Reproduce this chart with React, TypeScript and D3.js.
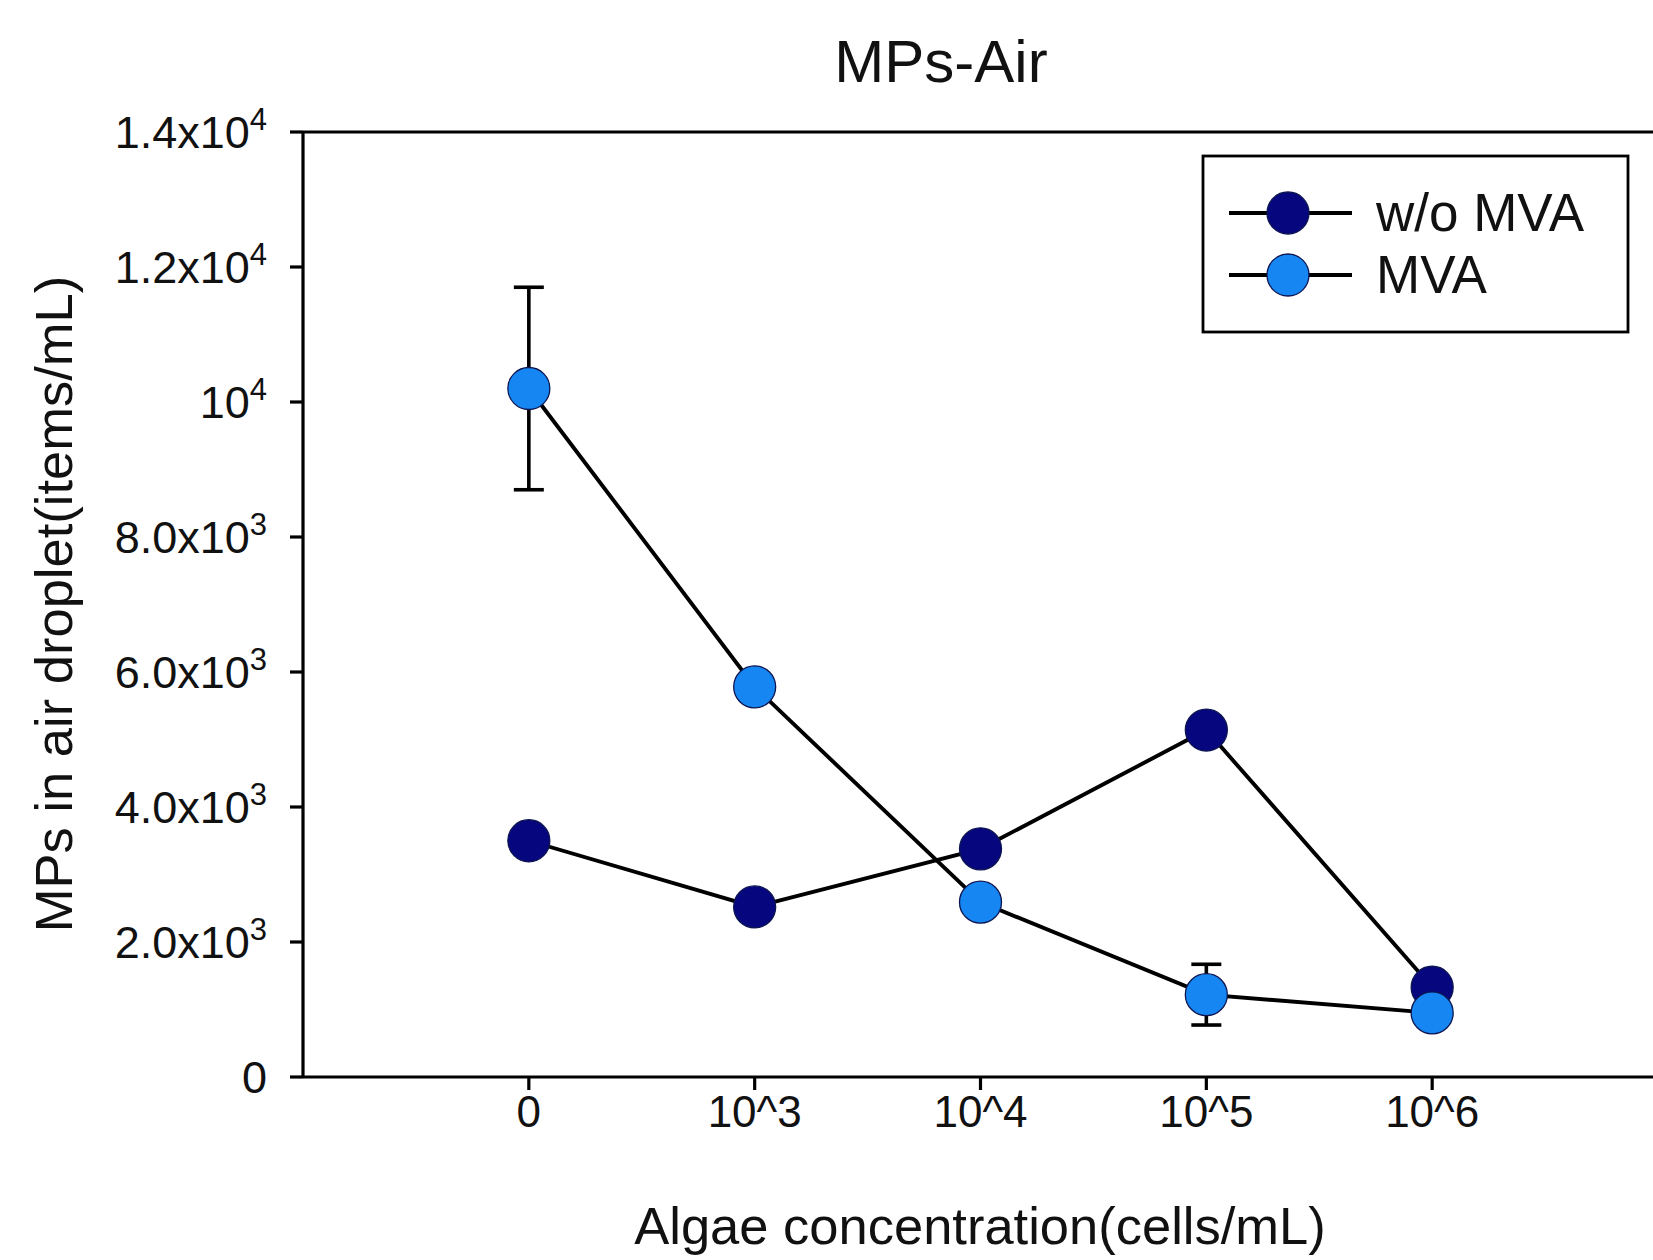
import React from 'react';
import * as d3 from 'd3';

// MPs-Air: MP count in air droplets vs algae concentration, with and without MVA.
const categories = ['0', '10^3', '10^4', '10^5', '10^6'];
const withoutMva = [3500, 2520, 3380, 5140, 1330];
const withoutMvaErr = [0, 0, 0, 0, 0];
const mva = [10200, 5780, 2590, 1220, 950];
const mvaErr = [1500, 0, 0, 450, 0];

const yTicks = [0, 2000, 4000, 6000, 8000, 10000, 12000, 14000];
// [mantissa text, exponent] — exponent rendered as superscript
const yTickLabels: [string, string][] = [
  ['0', ''],
  ['2.0x10', '3'],
  ['4.0x10', '3'],
  ['6.0x10', '3'],
  ['8.0x10', '3'],
  ['10', '4'],
  ['1.2x10', '4'],
  ['1.4x10', '4'],
];

const seriesNames = ['w/o MVA', 'MVA'];
const seriesColors = ['#06067E', '#1686F2'];

const W = 1653;
const H = 1260;
const FONT = '"Liberation Sans", Arial, sans-serif';

export default function App() {
  const x = d3
    .scalePoint<string>()
    .domain(categories)
    .range([303, 1658])
    .padding(1);
  const y = d3.scaleLinear().domain([0, 14000]).range([1077, 132]);

  const line = d3
    .line<number>()
    .x((_, i) => x(categories[i]) ?? 0)
    .y((v) => y(v));

  const series = [
    { name: seriesNames[0], values: withoutMva, err: withoutMvaErr, color: seriesColors[0] },
    { name: seriesNames[1], values: mva, err: mvaErr, color: seriesColors[1] },
  ];

  const [x0] = x.range();
  const y0 = y(0);
  const yTop = y(14000);
  const tick = 13;
  const r = 21;

  return (
    <svg
      width={W}
      height={H}
      style={{ position: 'absolute', left: 0, top: 0, background: '#fff' }}
      fontFamily={FONT}
    >
      <rect width={W} height={H} fill="#fff" />

      <text x={941} y={82} fontSize={60} textAnchor="middle" fill="#111">
        MPs-Air
      </text>

      {/* frame: left axis, bottom axis, top border */}
      <line x1={x0} x2={x0} y1={yTop} y2={y0} stroke="#000" strokeWidth={3.2} />
      <line x1={x0} x2={W} y1={y0} y2={y0} stroke="#000" strokeWidth={3.2} />
      <line x1={x0} x2={W} y1={yTop} y2={yTop} stroke="#000" strokeWidth={3.2} />

      {yTicks.map((t, i) => (
        <g key={t}>
          <line x1={x0 - tick} x2={x0} y1={y(t)} y2={y(t)} stroke="#000" strokeWidth={3.2} />
          <text x={267} y={y(t) + 16} fontSize={45} textAnchor="end" fill="#111">
            {yTickLabels[i][0]}
            {yTickLabels[i][1] ? (
              <tspan fontSize={31} dy={-18}>
                {yTickLabels[i][1]}
              </tspan>
            ) : null}
          </text>
        </g>
      ))}

      {categories.map((c) => (
        <g key={c}>
          <line
            x1={x(c)}
            x2={x(c)}
            y1={y0}
            y2={y0 + tick}
            stroke="#000"
            strokeWidth={3.2}
          />
          <text x={x(c)} y={1127} fontSize={44} textAnchor="middle" fill="#111">
            {c}
          </text>
        </g>
      ))}

      <text x={980} y={1244} fontSize={52.5} textAnchor="middle" fill="#111">
        Algae concentration(cells/mL)
      </text>
      <text
        transform={`translate(72, 604) rotate(-90)`}
        fontSize={52.5}
        textAnchor="middle"
        fill="#111"
      >
        MPs in air droplet(items/mL)
      </text>

      {series.map((s) => (
        <g key={s.name}>
          {s.values.map((v, i) =>
            s.err[i] > 0 ? (
              <g key={i} stroke="#000" strokeWidth={3.6}>
                <line
                  x1={x(categories[i])}
                  x2={x(categories[i])}
                  y1={y(v - s.err[i])}
                  y2={y(v + s.err[i])}
                />
                <line
                  x1={(x(categories[i]) ?? 0) - 15}
                  x2={(x(categories[i]) ?? 0) + 15}
                  y1={y(v + s.err[i])}
                  y2={y(v + s.err[i])}
                />
                <line
                  x1={(x(categories[i]) ?? 0) - 15}
                  x2={(x(categories[i]) ?? 0) + 15}
                  y1={y(v - s.err[i])}
                  y2={y(v - s.err[i])}
                />
              </g>
            ) : null,
          )}
          <path d={line(s.values) ?? ''} fill="none" stroke="#000" strokeWidth={3.9} />
          {s.values.map((v, i) => (
            <circle
              key={i}
              cx={x(categories[i])}
              cy={y(v)}
              r={r}
              fill={s.color}
              stroke="#0c1550"
              strokeWidth={1.3}
            />
          ))}
        </g>
      ))}

      {/* legend */}
      <rect x={1203} y={156} width={425} height={176} fill="#fff" stroke="#000" strokeWidth={2.8} />
      {series.map((s, i) => {
        const ly = 213 + i * 62;
        return (
          <g key={s.name}>
            <line x1={1229} x2={1352} y1={ly} y2={ly} stroke="#000" strokeWidth={3.9} />
            <circle cx={1288} cy={ly} r={r} fill={s.color} stroke="#0c1550" strokeWidth={1.3} />
            <text x={1376} y={ly + 18} fontSize={53} fill="#111">
              {s.name}
            </text>
          </g>
        );
      })}
    </svg>
  );
}
